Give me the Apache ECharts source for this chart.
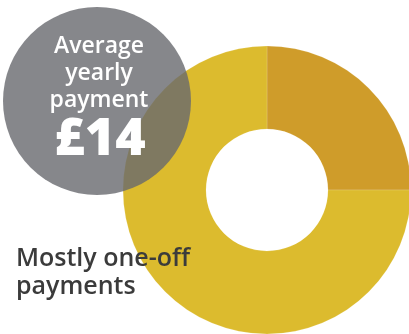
<!DOCTYPE html>
<html><head><meta charset="utf-8">
<script src="https://cdn.jsdelivr.net/npm/echarts@6/dist/echarts.min.js"></script>
<style>html,body{margin:0;padding:0;background:#fff}#c{width:409px;height:334px}</style>
</head><body><div id="c"></div>
<script>
var categories = ['Regular payments', 'One-off payments'];
var values = [25, 75];
var sliceColors = ['#CF9C2A', '#DCBB2E'];
var bubbleLines = ['Average', 'yearly', 'payment'];
var bubbleValue = '£14';
var captionLines = ['Mostly one-off', 'payments'];

var chart = echarts.init(document.getElementById('c'), null, {renderer: 'canvas'});
var font = '"Open Sans", sans-serif';
var option = {
  animation: false,
  series: [{
    type: 'pie',
    radius: [61, 144],
    center: [267, 190],
    startAngle: 90,
    clockwise: true,
    label: {show: false},
    labelLine: {show: false},
    silent: true,
    itemStyle: {borderColor: 'rgba(255,255,255,0.25)', borderWidth: 0.6},
    data: categories.map(function (c, i) {
      return {name: c, value: values[i], itemStyle: {color: sliceColors[i]}};
    })
  }],
  graphic: [
    {type: 'circle', shape: {cx: 97, cy: 101, r: 94}, style: {fill: 'rgba(104,105,110,0.8)'}, z: 10},
    {type: 'text', x: 99, y: 46, z: 11, style: {text: bubbleLines[0], fill: '#fff', font: '600 23px ' + font, align: 'center', verticalAlign: 'middle'}},
    {type: 'text', x: 99, y: 73, z: 11, style: {text: bubbleLines[1], fill: '#fff', font: '600 23px ' + font, align: 'center', verticalAlign: 'middle'}},
    {type: 'text', x: 99, y: 100, z: 11, style: {text: bubbleLines[2], fill: '#fff', font: '600 23px ' + font, align: 'center', verticalAlign: 'middle'}},
    {type: 'text', x: 100, y: 140, z: 11, style: {text: bubbleValue, fill: '#fff', font: '800 52px ' + font, align: 'center', verticalAlign: 'middle'}},
    {type: 'text', x: 16, y: 259, z: 11, style: {text: captionLines[0], fill: '#3b3b3b', font: '600 25px ' + font, align: 'left', verticalAlign: 'middle'}},
    {type: 'text', x: 16, y: 287, z: 11, style: {text: captionLines[1], fill: '#3b3b3b', font: '600 25px ' + font, align: 'left', verticalAlign: 'middle'}}
  ]
};
chart.setOption(option);
</script></body></html>
